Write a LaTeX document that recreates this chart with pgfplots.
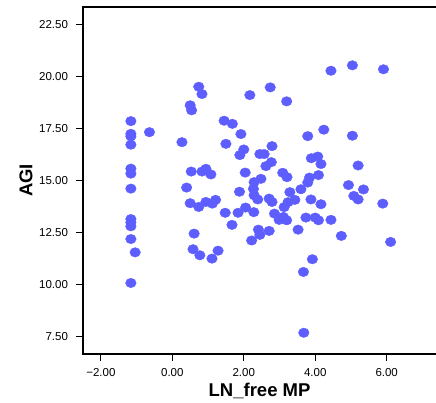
\documentclass[border=0pt]{standalone}
\usepackage{fontspec}
\setmainfont{Liberation Sans}
\usepackage{pgfplots}
\pgfplotsset{compat=1.18}

\definecolor{dotblue}{RGB}{94,94,255}

\begin{document}
\begin{tikzpicture}
\begin{axis}[
    scale only axis,
    width=356pt, height=347pt,
    xmin=-2.5, xmax=7.464,
    ymin=6.67, ymax=23.33,
    xtick={-2,0,2,4,6},
    xticklabels={−2.00,0.00,2.00,4.00,6.00},
    ytick={7.5,10,12.5,15,17.5,20,22.5},
    yticklabels={7.50,10.00,12.50,15.00,17.50,20.00,22.50},
    tick align=outside,
    xtick pos=bottom, ytick pos=left,
    major tick length=7pt,
    tick style={black, line width=1.2pt},
    axis line style={line width=1.8pt},
    ticklabel style={font=\fontsize{11.5}{13}\selectfont},
    yticklabel style={xshift=-4.5pt},
    xticklabel style={yshift=-3.5pt},
    xlabel={LN\_free MP},
    ylabel={AGI},
    label style={font=\fontsize{18.5}{20}\selectfont\bfseries},
    xlabel style={at={(axis description cs:0.496,0)}, anchor=base, yshift=-42.7pt},
    ylabel style={at={(axis description cs:-0.160,0.5)}, anchor=center},
]
\addplot[only marks, mark=*, mark size=5pt, color=dotblue,
  mark options={xscale=1.06, yscale=0.95}] table[x=x, y=y] {
x y
-1.16 17.85
-1.16 17.24
-1.16 17.12
-1.16 16.72
-1.16 15.57
-1.16 15.33
-1.16 14.61
-1.16 13.15
-1.16 12.99
-1.16 12.80
-1.16 12.19
-1.04 11.55
-1.16 10.08
-0.64 17.32
0.27 16.84
0.40 14.66
0.50 18.61
0.54 18.37
0.74 19.50
0.83 19.15
0.53 15.43
0.83 15.43
0.94 15.56
1.08 15.29
0.50 13.91
0.74 13.73
0.94 13.97
1.12 13.89
1.21 14.07
0.61 12.45
0.58 11.70
0.77 11.41
1.11 11.25
1.28 11.63
1.45 17.87
1.68 17.72
1.50 16.76
1.92 17.23
1.89 16.22
2.00 16.49
2.04 15.38
1.88 14.46
1.48 13.45
1.84 13.45
2.05 13.70
2.28 13.48
1.67 12.87
2.22 12.12
2.17 19.10
2.74 19.47
3.20 18.80
4.44 20.27
5.04 20.53
5.91 20.34
4.24 17.44
3.79 17.13
5.04 17.15
2.79 16.65
2.45 16.27
2.57 16.27
2.62 15.69
2.77 15.88
2.29 14.92
2.48 15.08
2.27 14.60
2.29 14.29
2.39 14.09
3.09 15.37
3.21 15.16
3.29 14.44
2.71 14.13
2.79 13.97
3.60 14.58
3.79 14.90
3.84 15.14
3.89 16.07
4.07 16.15
4.16 15.79
4.09 15.26
3.43 14.07
3.24 13.96
3.13 13.72
3.88 14.09
4.16 13.86
2.86 13.41
2.99 13.11
3.11 13.25
3.20 13.09
3.74 13.22
4.00 13.22
4.09 13.09
4.44 13.11
2.41 12.64
2.45 12.39
2.71 12.58
3.52 12.64
4.73 12.34
4.93 14.78
5.08 14.26
5.20 14.09
5.35 14.57
5.20 15.72
5.89 13.89
6.11 12.05
3.92 11.22
3.67 10.61
3.68 7.69
};
\end{axis}
% page = reference frame; right edge of axis box falls just outside it
\pgfresetboundingbox
\useasboundingbox ([shift={(-83pt,-49pt)}]current axis.south west)
  rectangle ([shift={(353pt,354pt)}]current axis.south west);
\end{tikzpicture}
\end{document}
